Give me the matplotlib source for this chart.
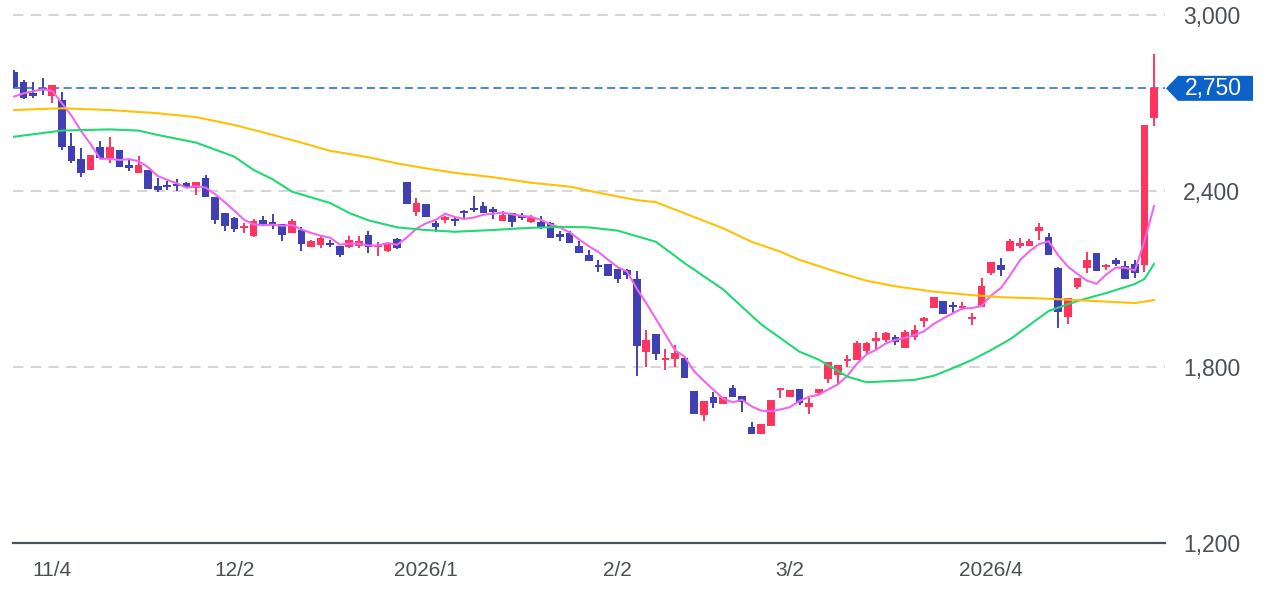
import matplotlib
matplotlib.use("Agg")
import matplotlib.pyplot as plt
import numpy as np
from matplotlib.patches import Polygon

# ---------------- data ----------------
opens = [2806, 2773, 2733, 2752, 2724, 2710, 2553, 2508, 2472, 2551,
         2511, 2540, 2489, 2462, 2472, 2417, 2420, 2424, 2428, 2409,
         2443, 2381, 2324, 2309, 2274, 2247, 2301, 2295, 2288, 2256,
         2267, 2210, 2216, 2224, 2212, 2208, 2212, 2250, 2208, 2195,
         2235, 2432, 2329, 2355, 2292, 2301, 2304, 2333, 2341, 2349,
         2338, 2299, 2324, 2315, 2295, 2295, 2290, 2252, 2256, 2212,
         2182, 2148, 2150, 2133, 2131, 2099, 1852, 1913, 1824, 1826,
         1830, 1718, 1636, 1697, 1674, 1729, 1702, 1597, 1572, 1599,
         1722, 1699, 1724, 1663, 1712, 1758, 1773, 1820, 1824, 1855,
         1890, 1892, 1901, 1864, 1901, 1958, 2000, 2025, 2011, 2000,
         1962, 2006, 2120, 2148, 2197, 2212, 2213, 2265, 2244, 2136,
         1969, 2074, 2136, 2190, 2140, 2165, 2144, 2151, 2148, 2648]
highs = [2812, 2780, 2773, 2785, 2761, 2739, 2599, 2547, 2523, 2570,
         2584, 2540, 2509, 2519, 2472, 2444, 2433, 2440, 2430, 2432,
         2455, 2381, 2326, 2311, 2290, 2304, 2316, 2321, 2288, 2304,
         2278, 2233, 2247, 2233, 2212, 2247, 2247, 2264, 2227, 2222,
         2240, 2432, 2375, 2355, 2299, 2315, 2312, 2336, 2383, 2361,
         2344, 2333, 2324, 2324, 2318, 2315, 2295, 2264, 2262, 2229,
         2199, 2165, 2151, 2133, 2134, 2128, 1926, 1913, 1860, 1875,
         1835, 1718, 1684, 1714, 1699, 1739, 1702, 1612, 1606, 1688,
         1728, 1722, 1724, 1693, 1724, 1818, 1807, 1841, 1890, 1884,
         1920, 1920, 1910, 1926, 1943, 1969, 2038, 2025, 2020, 2020,
         1984, 2102, 2159, 2171, 2235, 2240, 2238, 2292, 2256, 2142,
         2034, 2102, 2193, 2190, 2150, 2170, 2162, 2165, 2625, 2866]
lows = [2752, 2712, 2716, 2727, 2700, 2540, 2495, 2449, 2472, 2511,
        2497, 2481, 2468, 2462, 2406, 2398, 2405, 2400, 2413, 2386,
        2378, 2288, 2265, 2261, 2256, 2242, 2281, 2271, 2229, 2256,
        2195, 2208, 2206, 2210, 2174, 2205, 2205, 2188, 2178, 2192,
        2203, 2355, 2316, 2310, 2259, 2290, 2281, 2305, 2329, 2326,
        2305, 2299, 2276, 2300, 2290, 2270, 2239, 2229, 2224, 2190,
        2162, 2123, 2110, 2085, 2099, 1769, 1799, 1824, 1790, 1801,
        1764, 1640, 1617, 1661, 1674, 1697, 1648, 1572, 1572, 1599,
        1693, 1699, 1670, 1640, 1705, 1744, 1742, 1799, 1824, 1845,
        1858, 1885, 1875, 1864, 1892, 1935, 2000, 1980, 1981, 1995,
        1943, 2006, 2115, 2110, 2197, 2205, 2213, 2233, 2182, 1932,
        1947, 2065, 2122, 2128, 2130, 2145, 2099, 2102, 2125, 2623]
closes = [2755, 2716, 2724, 2747, 2761, 2549, 2503, 2462, 2523, 2511,
          2551, 2481, 2477, 2489, 2406, 2403, 2415, 2417, 2415, 2432,
          2380, 2301, 2281, 2269, 2281, 2299, 2288, 2288, 2250, 2299,
          2219, 2231, 2239, 2216, 2182, 2233, 2231, 2210, 2216, 2222,
          2205, 2355, 2358, 2310, 2278, 2312, 2299, 2324, 2335, 2326,
          2329, 2318, 2295, 2307, 2312, 2276, 2239, 2244, 2224, 2190,
          2162, 2142, 2110, 2099, 2114, 1872, 1892, 1844, 1830, 1847,
          1764, 1640, 1684, 1678, 1699, 1697, 1682, 1572, 1606, 1688,
          1728, 1722, 1678, 1676, 1724, 1818, 1807, 1827, 1881, 1881,
          1898, 1915, 1886, 1918, 1926, 1966, 2038, 1980, 2006, 2008,
          1971, 2076, 2159, 2131, 2230, 2224, 2230, 2278, 2182, 1989,
          2034, 2102, 2165, 2128, 2148, 2151, 2099, 2119, 2625, 2750]

# 5-day MA values before enough closes are available
ma5_head = [2722, 2733, 2740, 2747]

# 25-day MA (green) read at candle indices
ma25_idx = [0, 5, 10, 13, 15, 19, 23, 25, 27, 29, 33, 35, 37, 40, 43, 46, 50,
            53, 57, 60, 63, 67, 70, 74, 78, 82, 84, 87, 89, 94, 96, 98, 100,
            102, 104, 108, 111, 114, 117, 118, 119]
ma25_val = [2585, 2606, 2610, 2606, 2591, 2565, 2517, 2472, 2440, 2398, 2359,
            2325, 2300, 2276, 2267, 2261, 2267, 2273, 2278, 2276, 2265, 2227,
            2154, 2065, 1945, 1852, 1825, 1767, 1748, 1756, 1770, 1796, 1824,
            1858, 1895, 1991, 2025, 2052, 2083, 2100, 2151]

# 75-day MA (yellow) read at candle indices
ma75_idx = [0, 5, 10, 15, 19, 23, 26, 30, 33, 37, 40, 43, 46, 50, 54, 58, 61,
            65, 67, 70, 74, 77, 80, 82, 84, 86, 89, 92, 96, 100, 103, 107, 111,
            117, 119]
ma75_val = [2676, 2682, 2676, 2665, 2652, 2625, 2600, 2565, 2537, 2515, 2494,
            2477, 2462, 2447, 2428, 2415, 2394, 2369, 2362, 2324, 2273, 2227,
            2193, 2165, 2144, 2123, 2094, 2075, 2057, 2045, 2038, 2034, 2028,
            2018, 2028]

tick_idx = [4, 23, 43, 63, 81, 102]
tick_labels = ["11/4", "12/2", "2026/1", "2/2", "3/2", "2026/4"]
y_ticks = [1200, 1800, 2400, 3000]
last_price = 2750

# ---------------- styling ----------------
RED = "#ff3560"
BLUE = "#4040b4"
PINK = "#f066f0"
GREEN = "#22d874"
YELLOW = "#ffc107"
GRID = "#d6d6d6"
TXT = "#4a4f56"
LABEL_BLUE = "#0b63c9"

W, H = 1284, 596
fig = plt.figure(figsize=(W / 100, H / 100), dpi=100)
L_px, R_px, T_px, B_px = 13, 1165, 15, 543
ax = fig.add_axes([L_px / W, 1 - B_px / H, (R_px - L_px) / W, (B_px - T_px) / H])

o = np.array(opens, float)
h = np.array(highs, float)
l = np.array(lows, float)
c = np.array(closes, float)
x = np.arange(len(c))
up = c >= o
cols = np.where(up, RED, BLUE)

ax.vlines(x, l, h, colors=cols, lw=1.4, zorder=3)
body_bot = np.minimum(o, c)
body_h = np.maximum(np.abs(c - o), 5)
ax.bar(x, body_h, bottom=body_bot, width=0.8, color=cols, linewidth=0, zorder=3)

# moving averages
ma5 = np.convolve(c, np.ones(5) / 5, mode="valid")
ma5 = np.concatenate([ma5_head, ma5])
ax.plot(x, ma5, color=PINK, lw=1.5, zorder=4)
ax.plot(ma25_idx, ma25_val, color=GREEN, lw=1.5, zorder=4)
ax.plot(ma75_idx, ma75_val, color=YELLOW, lw=1.5, zorder=4)

# grid lines
for yv in y_ticks[1:]:
    ax.axhline(yv, color=GRID, lw=1.5, dashes=(5, 3.5), zorder=1, clip_on=False)

# last price line
ax.axhline(last_price, color="#3d7fd9", lw=1.3, dashes=(4.5, 2.5), zorder=2)

ax.set_xlim((L_px - 14) / 9.58, (R_px - 14) / 9.58)
ax.set_ylim(1200, 3000)

for s in ["top", "right", "left"]:
    ax.spines[s].set_visible(False)
ax.spines["bottom"].set_color("#4b5259")
ax.spines["bottom"].set_linewidth(1.6)

ax.yaxis.tick_right()
ax.set_yticks(y_ticks)
ax.set_yticklabels([f"{v:,}" for v in y_ticks])
ax.tick_params(axis="y", length=0, pad=13, labelsize=16.5, labelcolor=TXT)
ax.set_xticks(tick_idx)
ax.set_xticklabels(tick_labels)
ax.tick_params(axis="x", length=0, pad=13, labelsize=15, labelcolor=TXT)
for t in ax.get_xticklabels() + ax.get_yticklabels():
    t.set_fontfamily(["Liberation Sans", "DejaVu Sans"])

# last price label box
def fp(px, py):
    return (px / W, 1 - py / H)

yc = ax.transData.transform((0, last_price))[1]
yc_px = H - yc
pts = [fp(1166, yc_px), fp(1178, yc_px - 12.5), fp(1253, yc_px - 12.5),
       fp(1253, yc_px + 12.5), fp(1178, yc_px + 12.5)]
fig.patches.append(Polygon(pts, closed=True, transform=fig.transFigure,
                           facecolor=LABEL_BLUE, edgecolor="none"))
fig.text(1213 / W, 1 - yc_px / H, f"{last_price:,}", color="white", fontsize=16.5,
         ha="center", va="center", family=["Liberation Sans", "DejaVu Sans"])

fig.savefig("out.png", dpi=100, facecolor="white")
